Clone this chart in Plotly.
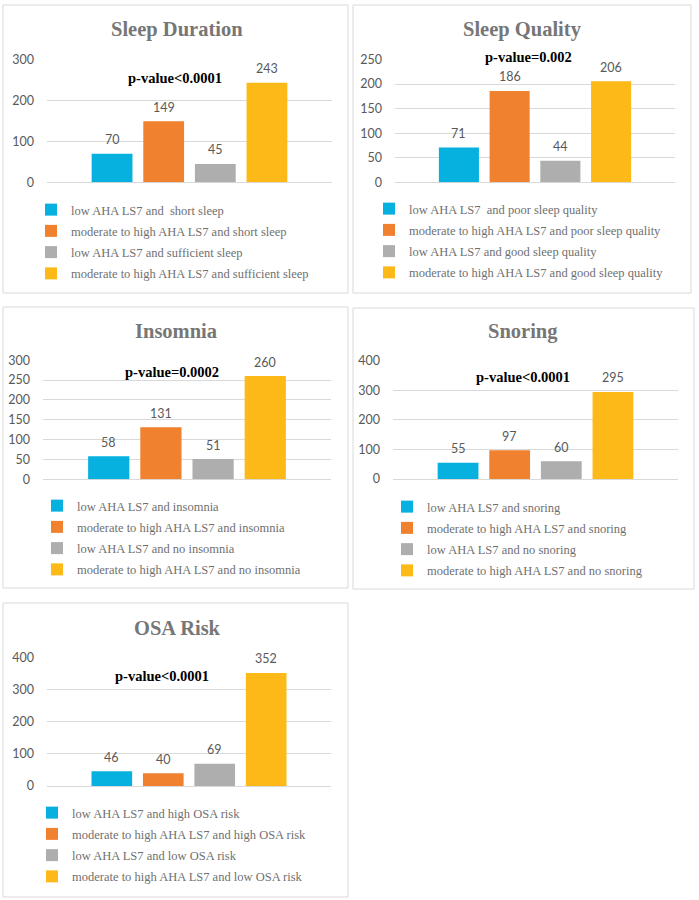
import plotly.graph_objects as go

# ---------------- data ----------------
titles = ["Sleep Duration", "Sleep Quality", "Insomnia", "Snoring", "OSA Risk"]
p_values = ["p-value<0.0001", "p-value=0.002", "p-value=0.0002", "p-value<0.0001", "p-value<0.0001"]

sleep_duration_labels = ["low AHA LS7 and  short sleep",
                         "moderate to high AHA LS7 and short sleep",
                         "low AHA LS7 and sufficient sleep",
                         "moderate to high AHA LS7 and sufficient sleep"]
sleep_duration_values = [70, 149, 45, 243]

sleep_quality_labels = ["low AHA LS7  and poor sleep quality",
                        "moderate to high AHA LS7 and poor sleep quality",
                        "low AHA LS7 and good sleep quality",
                        "moderate to high AHA LS7 and good sleep quality"]
sleep_quality_values = [71, 186, 44, 206]

insomnia_labels = ["low AHA LS7 and insomnia",
                   "moderate to high AHA LS7 and insomnia",
                   "low AHA LS7 and no insomnia",
                   "moderate to high AHA LS7 and no insomnia"]
insomnia_values = [58, 131, 51, 260]

snoring_labels = ["low AHA LS7 and snoring",
                  "moderate to high AHA LS7 and snoring",
                  "low AHA LS7 and no snoring",
                  "moderate to high AHA LS7 and no snoring"]
snoring_values = [55, 97, 60, 295]

osa_labels = ["low AHA LS7 and high OSA risk",
              "moderate to high AHA LS7 and high OSA risk",
              "low AHA LS7 and low OSA risk",
              "moderate to high AHA LS7 and low OSA risk"]
osa_values = [46, 40, 69, 352]

y_max = [300, 250, 300, 400, 400]
y_dtick = [100, 50, 50, 100, 100]

# ---------------- styling / layout ----------------
W, H = 699, 900
colors = ["#06B0DF", "#F0812F", "#AEAEAE", "#FDB917"]
BAR_WIDTH = 0.79          # fraction of one series slot
X_RANGE = [-1.26, 4.26]   # slots visible across the plot area

all_labels = [sleep_duration_labels, sleep_quality_labels, insomnia_labels, snoring_labels, osa_labels]
all_values = [sleep_duration_values, sleep_quality_values, insomnia_values, snoring_values, osa_values]

# pixel geometry per panel
plot_x = [(47, 332), (395, 675), (43, 331), (393, 678), (47, 331)]
plot_y = [(59.3, 182.3), (59.3, 182.3), (360, 479.3), (360.7, 479), (657.3, 786)]  # (top, bottom)
boxes = [(3, 5, 348, 293), (353, 5, 691, 293), (3, 307, 348, 588), (353, 308, 694, 589), (3, 603, 348, 897)]
title_pos = [(177, 30), (522, 30), (176, 331), (523, 332), (177, 628)]
pval_pos = [(175, 78), (528, 57), (172, 372), (523, 377), (162, 676)]
legend_pos = [(31, 195), (369, 194), (37, 491), (387, 492), (32, 798)]


def px_x(v):
    return v / W


def px_y(v):
    return 1 - v / H


fig = go.Figure()
layout = dict(
    width=W, height=H,
    margin=dict(l=0, r=0, t=0, b=0, autoexpand=False),
    paper_bgcolor="white", plot_bgcolor="white",
    barmode="overlay",
    showlegend=True,
    shapes=[], annotations=[],
)

for i in range(5):
    n = "" if i == 0 else str(i + 1)
    xa, ya = "x" + n, "y" + n
    lg = "legend" + n
    for j in range(4):
        v = all_values[i][j]
        fig.add_trace(go.Bar(
            x=[j], y=[v], width=[BAR_WIDTH],
            name=all_labels[i][j],
            marker=dict(color=colors[j], line=dict(width=0)),
            xaxis=xa, yaxis=ya, legend=lg, legendgroup="g%d_%d" % (i, j),
            hoverinfo="skip",
        ))
        # data label above the bar
        layout["annotations"].append(dict(
            text=str(v), x=j, y=v, xref=xa, yref=ya,
            xanchor="center", yanchor="bottom", yshift=4.5, showarrow=False,
            font=dict(family="Lato", size=12.5, color="#595959"),
        ))
    layout["xaxis" + n] = dict(
        domain=[px_x(plot_x[i][0]), px_x(plot_x[i][1])],
        anchor=ya, range=X_RANGE, showticklabels=False, showgrid=False, zeroline=False,
        showline=False, ticks="", fixedrange=True, automargin=False,
    )
    layout["yaxis" + n] = dict(
        domain=[px_y(plot_y[i][1]), px_y(plot_y[i][0])],
        anchor=xa, range=[0, y_max[i] * 1.002], dtick=y_dtick[i], tick0=0,
        showgrid=True, gridcolor="#D9D9D9", gridwidth=1,
        zeroline=True, zerolinecolor="#D9D9D9", zerolinewidth=1,
        showline=False, ticks="", ticklabelstandoff=12,
        tickfont=dict(family="Lato", size=12.5, color="#595959"),
        fixedrange=True, automargin=False,
    )
    layout[lg] = dict(
        x=px_x(legend_pos[i][0]), y=px_y(legend_pos[i][1]),
        xanchor="left", yanchor="top",
        bgcolor="rgba(0,0,0,0)", borderwidth=0,
        font=dict(family="Liberation Serif", size=12.5, color="#707070"),
        tracegroupgap=2, orientation="v",
        traceorder="grouped",
    )
    b = boxes[i]
    layout["shapes"].append(dict(
        type="rect", xref="paper", yref="paper",
        x0=px_x(b[0]), x1=px_x(b[2]), y0=px_y(b[3]), y1=px_y(b[1]),
        line=dict(color="#D9D9D9", width=1), fillcolor="rgba(0,0,0,0)", layer="below",
    ))
    layout["annotations"].append(dict(
        text="<b>" + titles[i] + "</b>", xref="paper", yref="paper",
        x=px_x(title_pos[i][0]), y=px_y(title_pos[i][1]),
        xanchor="center", yanchor="middle", showarrow=False,
        font=dict(family="Liberation Serif", size=20.5, color="#767676"),
    ))
    layout["annotations"].append(dict(
        text="<b>" + p_values[i] + "</b>", xref="paper", yref="paper",
        x=px_x(pval_pos[i][0]), y=px_y(pval_pos[i][1]),
        xanchor="center", yanchor="middle", showarrow=False,
        font=dict(family="Liberation Serif", size=14.5, color="#000000"),
    ))

fig.update_layout(**layout)

post_js = (
    "document.documentElement.style.margin='0';"
    "document.documentElement.style.padding='0';"
    "document.documentElement.style.overflow='hidden';"
    "document.body.style.margin='0';"
    "document.body.style.padding='0';"
    "document.body.style.overflow='hidden';"
    "var d=document.querySelector('.plotly-graph-div');"
    "if(d){d.style.position='fixed';d.style.top='0px';d.style.left='0px';}"
)
fig.write_html("out.html", config={"displayModeBar": False, "staticPlot": True},
               post_script=post_js)
